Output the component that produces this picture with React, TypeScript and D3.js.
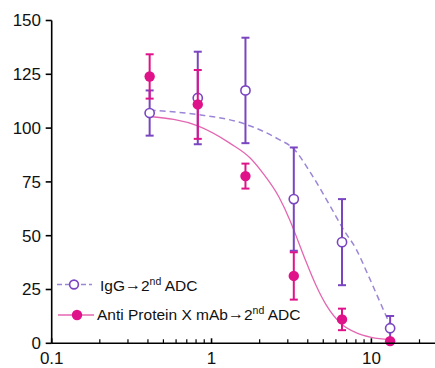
import React from "react";
import * as d3 from "d3";

// concentration (x, log scale) and % response values
const concentration = [0.41, 0.82, 1.63, 3.27, 6.55, 13.1];
const iggMean = [107, 114, 117.5, 67, 47, 7];
const iggErr = [10.5, 21.5, 24.5, 24, 20, 5.7];
const antiMean = [124, 111, 77.7, 31.3, 11.1, 1];
const antiErr = [10.3, 16, 5.8, 11, 5, 0.8];

// fitted curves
const iggFitX = [0.41, 0.82, 1.6, 2.6, 3.3, 4.1, 5.5, 6.8, 8.0, 9.5, 11.5, 13.1];
const iggFitY = [108.3, 106.3, 102, 95, 90, 80, 64, 52, 44, 32, 18, 8.5];
const antiFitX = [0.41, 0.82, 1.3, 1.75, 2.1, 2.64, 3.1, 3.5, 3.9, 4.5, 5.2, 6.5, 8.0, 10, 13.1];
const antiFitY = [105.4, 101, 93, 86, 79, 68, 57, 47, 38, 27, 18, 9, 5, 2.8, 1.8];

const yTicks = [0, 25, 50, 75, 100, 125, 150];
const xMajor = [0.1, 1, 10];

const W = 435;
const H = 368;
const font = "'Liberation Sans', Arial, sans-serif";

const purple = "#7a45c0";
const purpleLine = "#9c86d6";
const magenta = "#e0128a";
const magentaLine = "#e466b1";

export default function App() {
  const x = d3.scaleLog().domain([0.1, 25]).range([51.7, 435]);
  const y = d3.scaleLinear().domain([0, 150]).range([343.3, 20.5]);

  const minor: number[] = [];
  [0.1, 1, 10].forEach((d) => {
    for (let k = 2; k <= 9; k++) if (d * k <= 25) minor.push(d * k);
  });

  const line = d3
    .line<[number, number]>()
    .x((d) => x(d[0]))
    .y((d) => y(d[1]))
    .curve(d3.curveMonotoneX);

  const iggFit = line(iggFitX.map((v, i) => [v, iggFitY[i]]) as [number, number][]) || "";
  const antiFit = line(antiFitX.map((v, i) => [v, antiFitY[i]]) as [number, number][]) || "";

  const errBars = (mean: number[], err: number[], color: string) =>
    concentration.map((c, i) => {
      const cx = x(c);
      const top = y(mean[i] + err[i]);
      const bot = y(Math.max(0, mean[i] - err[i]));
      return (
        <g key={i} stroke={color} strokeWidth={2}>
          <line x1={cx} x2={cx} y1={top} y2={bot} />
          <line x1={cx - 4} x2={cx + 4} y1={top} y2={top} />
          <line x1={cx - 4} x2={cx + 4} y1={bot} y2={bot} />
        </g>
      );
    });

  const legendLabel = (name: string) => (
    <>
      {name}
      <tspan fontSize={16} dy={-1}>→</tspan>
      <tspan dy={1}>2</tspan>
      <tspan fontSize={10.5} dy={-6}>nd</tspan>
      <tspan dy={6}> ADC</tspan>
    </>
  );

  return (
    <svg
      width={W}
      height={H}
      style={{ position: "absolute", left: 0, top: 0, background: "#fff" }}
      fontFamily={font}
    >
      <rect width={W} height={H} fill="#fff" />

      {/* fit curves */}
      <path d={iggFit} fill="none" stroke={purpleLine} strokeWidth={1.5} strokeDasharray="6,4" />
      <path d={antiFit} fill="none" stroke={magentaLine} strokeWidth={1.3} />

      {/* IgG series */}
      {errBars(iggMean, iggErr, purple)}
      {concentration.map((c, i) => (
        <circle key={i} cx={x(c)} cy={y(iggMean[i])} r={4.6} fill="#fff" stroke={purple} strokeWidth={1.6} />
      ))}

      {/* anti protein X series */}
      {errBars(antiMean, antiErr, magenta)}
      {concentration.map((c, i) => (
        <circle key={i} cx={x(c)} cy={y(antiMean[i])} r={5.2} fill={magenta} />
      ))}

      {/* axes */}
      <g stroke="#000" strokeWidth={1.6}>
        <line x1={x(0.1)} x2={x(0.1)} y1={y(150)} y2={y(0)} />
        <line x1={x(0.1)} x2={W} y1={y(0)} y2={y(0)} />
        {yTicks.map((t) => (
          <line key={t} x1={x(0.1) - 6} x2={x(0.1)} y1={y(t)} y2={y(t)} />
        ))}
        {xMajor.map((t) => (
          <line key={t} x1={x(t)} x2={x(t)} y1={y(0)} y2={y(0) - 5} />
        ))}
        {minor.map((t) => (
          <line key={t} x1={x(t)} x2={x(t)} y1={y(0)} y2={y(0) - 4} strokeWidth={1.2} />
        ))}
      </g>
      {yTicks.map((t) => (
        <text key={t} x={41} y={y(t)} dy="0.35em" textAnchor="end" fontSize={17} fill="#111">
          {t}
        </text>
      ))}
      {xMajor.map((t) => (
        <text key={t} x={x(t)} y={364} textAnchor="middle" fontSize={17} fill="#111">
          {t}
        </text>
      ))}

      {/* legend */}
      <line x1={57} x2={92} y1={284.5} y2={284.5} stroke={purpleLine} strokeWidth={1.5} strokeDasharray="5,3" />
      <circle cx={74} cy={284.5} r={4.4} fill="#fff" stroke={purple} strokeWidth={1.6} />
      <text x={100} y={290.5} fontSize={15.5} fill="#111">
        {legendLabel("IgG")}
      </text>
      <line x1={58} x2={94} y1={315} y2={315} stroke={magentaLine} strokeWidth={1.5} />
      <circle cx={77} cy={315} r={5.2} fill={magenta} />
      <text x={97} y={320} fontSize={15.5} fill="#111">
        {legendLabel("Anti Protein X mAb")}
      </text>
    </svg>
  );
}
